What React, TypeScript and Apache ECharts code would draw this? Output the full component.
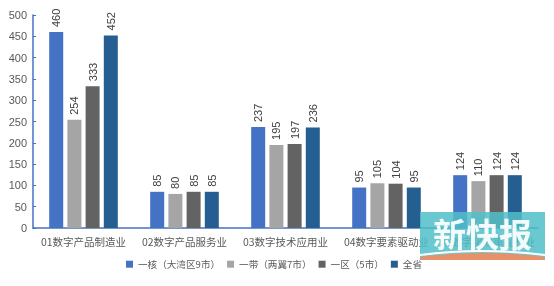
import React, { useEffect, useRef } from "react";
import * as echarts from "echarts";

const categories = ["01数字产品制造业", "02数字产品服务业", "03数字技术应用业", "04数字要素驱动业", "05数字化效率提升业"];
const seriesNames = ["一核（大湾区9市）", "一带（两翼7市）", "一区（5市）", "全省"];
const coreValues = [460, 85, 237, 95, 124];
const beltValues = [254, 80, 195, 105, 110];
const zoneValues = [333, 85, 197, 104, 124];
const provinceValues = [452, 85, 236, 95, 124];
const colors = ["#4472C4", "#A5A5A5", "#636363", "#255E91"];

echarts.graphic.registerShape(
  "wmOrange",
  (echarts.graphic as any).extendPath("M0,48 L0,45 Q62.5,37 125,45 L125,48 Z", {})
);
echarts.graphic.registerShape(
  "wmWhite",
  (echarts.graphic as any).extendPath("M0,43 Q62.5,35 125,43", {})
);

export default function App() {
  const ref = useRef<HTMLDivElement>(null);
  useEffect(() => {
    if (!ref.current) return;
    const chart = echarts.init(ref.current, null, { renderer: "svg" });
    const data = [coreValues, beltValues, zoneValues, provinceValues];
    chart.setOption({
      animation: false,
      textStyle: { fontFamily: "Noto Sans CJK SC" },
      grid: { left: 33, right: 16, top: 15, bottom: 58 },
      legend: {
        bottom: 12,
        left: 121,
        itemWidth: 7,
        itemHeight: 7,
        itemGap: 7,
        icon: "rect",
        textStyle: { fontSize: 9.6, color: "#595959" },
        data: seriesNames,
      },
      xAxis: {
        type: "category",
        data: categories,
        axisLine: { lineStyle: { color: "#4472C4", width: 1.5 } },
        axisTick: { show: false },
        axisLabel: { fontSize: 10.5, color: "#595959", margin: 8, interval: 0 },
      },
      yAxis: {
        type: "value",
        min: 0,
        max: 500,
        interval: 50,
        axisLine: { show: true, lineStyle: { color: "#4472C4", width: 1.5 } },
        axisTick: { show: true, inside: true, length: 3, lineStyle: { color: "#4472C4" } },
        splitLine: { show: false },
        axisLabel: { fontSize: 11, color: "#595959", margin: 6, fontFamily: "Liberation Sans" },
      },
      series: seriesNames.map((name, i) => ({
        name,
        type: "bar",
        data: data[i],
        barWidth: 14,
        barGap: "30%",
        itemStyle: { color: colors[i] },
        label: {
          show: true,
          position: "top",
          rotate: 90,
          align: "left",
          verticalAlign: "middle",
          distance: 5,
          fontSize: 11,
          color: "#404040",
          fontFamily: "Liberation Sans",
        },
      })),
      graphic: [
        {
          type: "group",
          x: 420,
          y: 212,
          z: 1000,
          zlevel: 1,
          children: [
            { type: "rect", z: 1000, shape: { x: 0, y: 0, width: 125, height: 48 }, style: { fill: "rgba(80,190,200,0.85)" } },
            { type: "wmOrange", z: 1001, style: { fill: "#E8906A" } },
            { type: "wmWhite", z: 1001, style: { fill: "none", stroke: "#FFFFFF", lineWidth: 2 } },
            {
              type: "text",
              z: 1002,
              x: 62.5,
              y: 21,
              style: {
                text: "新快报",
                fill: "rgba(255,255,255,0.92)",
                fontSize: 33,
                fontWeight: "bold",
                fontFamily: "Noto Sans CJK SC",
                align: "center",
                verticalAlign: "middle",
              },
            },
          ],
        },
      ],
    });
    return () => chart.dispose();
  }, []);
  return <div ref={ref} style={{ position: "fixed", left: 0, top: 0, width: 554, height: 286 }} />;
}
